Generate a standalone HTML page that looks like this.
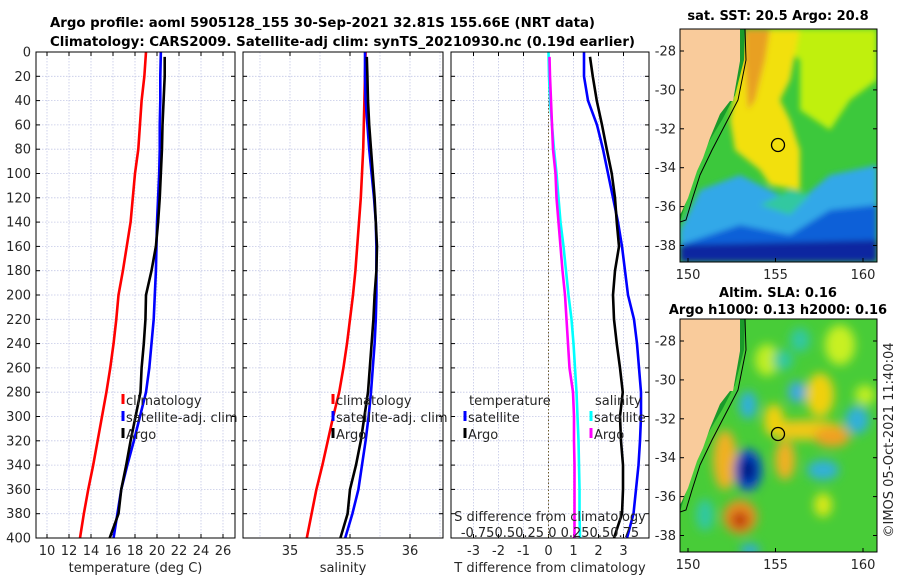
<!DOCTYPE html>
<html><head><meta charset="utf-8"><style>
html,body{margin:0;padding:0;background:#fff;}
svg{display:block;font-family:"DejaVu Sans","Liberation Sans",sans-serif;}
.tk{font-size:13px;fill:#262626;}
.ttl{font-size:13px;font-weight:bold;fill:#000;}
</style></head><body>
<svg id="fig" width="900" height="580" viewBox="0 0 900 580">
<defs>
<filter id="blur1" x="-50%" y="-50%" width="200%" height="200%"><feGaussianBlur stdDeviation="3"/></filter>
<filter id="blur2" x="-50%" y="-50%" width="200%" height="200%"><feGaussianBlur stdDeviation="5"/></filter>
<clipPath id="c1"><rect x="680" y="29" width="197" height="233"/></clipPath>
<clipPath id="c2"><rect x="680" y="319" width="197" height="233"/></clipPath>
</defs>
<text class="ttl" x="50" y="27" textLength="545" lengthAdjust="spacingAndGlyphs">Argo profile: aoml 5905128_155 30-Sep-2021 32.81S 155.66E (NRT data)</text>
<text class="ttl" x="50" y="46" textLength="585" lengthAdjust="spacingAndGlyphs">Climatology: CARS2009. Satellite-adj clim: synTS_20210930.nc (0.19d earlier)</text>
<g id="panels"></g>
<g id="maps">
<text class="ttl" x="778" y="20" text-anchor="middle">sat. SST: 20.5 Argo: 20.8</text>
<g clip-path="url(#c1)">
<rect x="680" y="29" width="197" height="233" fill="#3cc83c"/>
<g filter="url(#blur1)">
<polygon points="760,29 877,29 877,80 850,100 830,130 800,110 800,60" fill="#c0f010"/>
<polygon points="745,29 800,29 790,80 780,100 790,120 800,150 800,190 770,185 760,170 735,150 730,120" fill="#f2e010"/>
<polygon points="745,29 770,29 765,60 755,100 748,110 745,60" fill="#e8a020"/>
<polygon points="700,190 740,175 780,195 800,200 830,175 877,165 877,262 680,262 680,230" fill="#30a8e8"/>
<polygon points="740,225 790,235 830,210 877,205 877,262 680,262 680,245" fill="#1060d8"/>
<polygon points="680,245 877,240 877,262 680,262" fill="#0828a0"/>
<polygon points="760,205 790,215 810,195 790,190" fill="#30c8a0"/>
</g>
<polygon points="737,29 745,29 744,60 735,95 722,120 710,140 700,160 690,190 682,215 680,222 680,200 688,180 705,135 730,100 740,60" fill="#1a9a2a"/>
<polygon points="737,29 740,29 740,61 733,101 730,101 720,114 710,138 703,158 697,171 688,198 682,211 680,215 680,29" fill="#f9cb9b"/>
<polyline points="745,29 746,60 738,100 725,125 712,150 700,175 692,200 686,220 680,222" fill="none" stroke="#000" stroke-width="1"/>
<circle cx="778" cy="145" r="6.5" fill="none" stroke="#000" stroke-width="1.3"/>
</g>
<rect x="680" y="29" width="197" height="233" fill="none" stroke="#000" stroke-width="1"/>
<text class="ttl" x="778" y="297" text-anchor="middle">Altim. SLA: 0.16</text>
<text class="ttl" x="778" y="314" text-anchor="middle">Argo h1000: 0.13 h2000: 0.16</text>
<g clip-path="url(#c2)">
<rect x="680" y="319" width="197" height="233" fill="#48cc38"/>
<g filter="url(#blur2)">
<ellipse cx="767" cy="360" rx="12" ry="16" fill="#c0ee20"/>
<ellipse cx="840" cy="345" rx="15" ry="20" fill="#c8f020"/>
<ellipse cx="800" cy="340" rx="10" ry="12" fill="#30c8a0"/>
<ellipse cx="783" cy="360" rx="10" ry="10" fill="#30c8a0"/>
<ellipse cx="820" cy="395" rx="14" ry="22" fill="#f0d010"/>
<ellipse cx="805" cy="430" rx="40" ry="10" fill="#f0c818"/>
<ellipse cx="832" cy="437" rx="18" ry="10" fill="#f0a020"/>
<ellipse cx="774" cy="420" rx="10" ry="16" fill="#f0d010"/>
<ellipse cx="785" cy="460" rx="10" ry="20" fill="#f0b020"/>
<ellipse cx="797" cy="392" rx="9" ry="11" fill="#40a8e0"/>
<ellipse cx="748" cy="405" rx="9" ry="14" fill="#30b0d8"/>
<ellipse cx="725" cy="460" rx="12" ry="30" fill="#f0b020"/>
<ellipse cx="748" cy="470" rx="14" ry="21" fill="#1050d0"/>
<ellipse cx="748" cy="470" rx="8" ry="13" fill="#001880"/>
<ellipse cx="740" cy="517" rx="17" ry="17" fill="#e89020"/>
<ellipse cx="740" cy="520" rx="9" ry="9" fill="#c04010"/>
<ellipse cx="823" cy="470" rx="16" ry="10" fill="#30b0d8"/>
<ellipse cx="857" cy="420" rx="12" ry="14" fill="#30b0d8"/>
<ellipse cx="865" cy="395" rx="10" ry="10" fill="#c0ee20"/>
<ellipse cx="823" cy="505" rx="9" ry="12" fill="#d8e818"/>
<ellipse cx="705" cy="515" rx="9" ry="16" fill="#30c8a0"/>
<ellipse cx="750" cy="550" rx="10" ry="6" fill="#30a8e0"/>
</g>
<polygon points="737,319 745,319 744,350 735,385 722,410 710,430 700,450 690,480 682,505 680,512 680,490 688,470 705,425 730,390 740,350" fill="#1a9a2a"/>
<polygon points="737,319 740,319 740,351 733,391 730,391 720,404 710,428 703,448 697,461 688,488 682,501 680,505 680,319" fill="#f9cb9b"/>
<polyline points="745,319 746,350 738,390 725,415 712,440 700,465 692,490 686,510 680,512" fill="none" stroke="#000" stroke-width="1"/>
<circle cx="778" cy="434" r="6.5" fill="none" stroke="#000" stroke-width="1.3"/>
</g>
<rect x="680" y="319" width="197" height="233" fill="none" stroke="#000" stroke-width="1"/>
<g id="maplabels"></g>
<text class="tk" transform="translate(893,440) rotate(-90)" text-anchor="middle">©IMOS 05-Oct-2021 11:40:04</text>
</g>
</svg>
<script>
const depths = [0,20,40,60,80,100,120,140,160,180,200,220,240,260,280,300,320,340,360,380,400];
const tempClim = [19.0,18.85,18.6,18.45,18.3,18.0,17.8,17.6,17.25,16.9,16.5,16.3,16.05,15.75,15.4,15.0,14.6,14.2,13.75,13.35,13.0];
const tempSat = [20.35,20.3,20.3,20.25,20.25,20.2,20.1,20.0,19.95,19.9,19.8,19.7,19.5,19.3,19.0,18.45,17.9,17.3,16.75,16.4,16.05];
const tempArgo = [20.7,20.7,20.6,20.5,20.45,20.35,20.25,20.1,19.9,19.5,19.0,18.95,18.8,18.6,18.5,18.05,17.6,17.2,16.75,16.5,15.7];
const salClim = [35.63,35.625,35.62,35.615,35.61,35.6,35.59,35.575,35.56,35.545,35.525,35.5,35.475,35.445,35.41,35.36,35.315,35.27,35.22,35.18,35.14];
const salSat = [35.625,35.625,35.63,35.645,35.66,35.68,35.7,35.715,35.72,35.72,35.72,35.715,35.705,35.69,35.675,35.655,35.63,35.6,35.57,35.52,35.46];
const salArgo = [35.64,35.645,35.65,35.66,35.675,35.69,35.705,35.715,35.725,35.72,35.705,35.695,35.68,35.665,35.65,35.62,35.59,35.55,35.5,35.48,35.42];
const dTSat = [1.42,1.42,1.58,1.94,2.18,2.38,2.58,2.78,2.94,3.06,3.18,3.42,3.54,3.62,3.7,3.7,3.66,3.6,3.5,3.4,3.14];
const dTArgo = [1.66,1.77,1.93,2.14,2.33,2.53,2.66,2.73,2.82,2.66,2.58,2.62,2.73,2.86,2.97,2.86,2.9,2.98,2.98,2.94,2.62];
const dSSat = [0,0.005,0.015,0.035,0.055,0.08,0.1,0.12,0.15,0.175,0.2,0.23,0.25,0.265,0.28,0.29,0.3,0.305,0.31,0.31,0.315];
const dSArgo = [0.01,0.015,0.025,0.035,0.045,0.07,0.08,0.1,0.12,0.14,0.165,0.18,0.195,0.21,0.245,0.255,0.255,0.26,0.26,0.26,0.26];
const depthTicks = [0,20,40,60,80,100,120,140,160,180,200,220,240,260,280,300,320,340,360,380,400];
const tempTicks = [10,12,14,16,18,20,22,24,26];
const salTicks = [35,35.5,36];
const salGrid = [34.75,35,35.25,35.5,35.75,36,36.25];
const dTTicks = [-3,-2,-1,0,1,2,3];
const dTGrid = [-3,-2,-1,0,1,2,3];
const lonTicks = [150,155,160];
const latTicks = [-28,-30,-32,-34,-36,-38];

const NS = 'http://www.w3.org/2000/svg';
const TOP = 52, BOT = 538;
const yD = d => TOP + (d/400)*(BOT-TOP);
const xT = t => 47 + (t-10)*11;
const xS = s => 350 + (s-35.5)*120;
const xDT = v => 548.5 + v*25;
const xDS = v => 548.5 + v*100;
const root = document.getElementById('panels');
function mk(tag, attrs, parent){const e=document.createElementNS(NS,tag);for(const k in attrs)e.setAttribute(k,attrs[k]);(parent||root).appendChild(e);return e;}

function panel(x0,x1,name,xfun,gridVals,tickVals,tickLabels,xlabel,showY){
  const g = mk('g',{});
  
  
  depthTicks.forEach(d=>{ mk('line',{x1:x0,x2:x1,y1:yD(d),y2:yD(d),stroke:'#c4c8e6','stroke-width':0.8,'stroke-dasharray':'1.5,1.5'},g); });
  gridVals.forEach(v=>{ const x=xfun(v); mk('line',{x1:x,x2:x,y1:TOP,y2:BOT,stroke:'#c4c8e6','stroke-width':0.8,'stroke-dasharray':'1.5,1.5'},g); });
  depthTicks.forEach(d=>{ mk('line',{x1:x0,x2:x0+4,y1:yD(d),y2:yD(d),stroke:'#000'},g); mk('line',{x1:x1-4,x2:x1,y1:yD(d),y2:yD(d),stroke:'#000'},g);
    if(showY){ const t=mk('text',{x:x0-5,y:yD(d)+4.5,'text-anchor':'end',class:'tk'},g); t.textContent=d;
      
       } });
  tickVals.forEach((v,i)=>{ const x=xfun(v); mk('line',{x1:x,x2:x,y1:BOT,y2:BOT-4,stroke:'#000'},g); mk('line',{x1:x,x2:x,y1:TOP,y2:TOP+4,stroke:'#000'},g);
    const t=mk('text',{x:x,y:BOT+17,'text-anchor':'middle',class:'tk'},g); t.textContent=tickLabels[i];
    
     });
  const xl=mk('text',{x:(x0+x1)/2,y:BOT+34,'text-anchor':'middle',class:'tk'},g); xl.textContent=xlabel;
  
  
  return g;
}
function line(g,vals,xfun,color,name,skipFirst){
  const pts = vals.map((v,i)=>[xfun(v), i===0&&skipFirst? yD(4): yD(depths[i])]);
  const p = mk('polyline',{points:pts.map(p=>p.join(',')).join(' '),fill:'none',stroke:color,'stroke-width':2.6,'stroke-linejoin':'round'},g);
  
  
}
function box(g,x0,x1){ mk('rect',{x:x0,y:TOP,width:x1-x0,height:BOT-TOP,fill:'none',stroke:'#000','stroke-width':1},g); }
function legend(g,x,y,color,label){
  const m=mk('line',{x1:x,x2:x,y1:y-11,y2:y-1,stroke:color,'stroke-width':3},g);
  
  
  const t=mk('text',{x:x+3,y:y,class:'tk'},g); t.textContent=label;
  
  
}

const g1 = panel(36,235,'temperature-panel',xT,tempTicks,tempTicks,tempTicks.map(String),'temperature (deg C)',true);
line(g1,tempClim,xT,'#ff0000','temp-climatology-line',false);
line(g1,tempSat,xT,'#0000ff','temp-satellite-line',false);
line(g1,tempArgo,xT,'#000000','temp-argo-line',true);
box(g1,36,235);
legend(g1,123,405,'#ff0000','climatology');
legend(g1,123,422,'#0000ff','satellite-adj. clim');
legend(g1,123,439,'#000000','Argo');

const g2 = panel(243,443,'salinity-panel',xS,salGrid,salTicks,['35','35.5','36'],'salinity',false);
line(g2,salClim,xS,'#ff0000','sal-climatology-line',false);
line(g2,salSat,xS,'#0000ff','sal-satellite-line',false);
line(g2,salArgo,xS,'#000000','sal-argo-line',true);
box(g2,243,443);
legend(g2,333,405,'#ff0000','climatology');
legend(g2,333,422,'#0000ff','satellite-adj. clim');
legend(g2,333,439,'#000000','Argo');

const g3 = panel(451,649,'difference-panel',xDT,dTGrid,dTTicks,dTTicks.map(String),'T difference from climatology',false);
mk('line',{x1:xDT(0),x2:xDT(0),y1:TOP,y2:BOT,stroke:'#6b5a2a','stroke-width':1,'stroke-dasharray':'1.5,2'},g3);
line(g3,dSSat,xDS,'#00ffff','s-diff-satellite-line',false);
line(g3,dSArgo,xDS,'#ff00ff','s-diff-argo-line',true);
line(g3,dTSat,xDT,'#0000ff','t-diff-satellite-line',false);
line(g3,dTArgo,xDT,'#000000','t-diff-argo-line',true);
box(g3,451,649);
(function(){
  let t=mk('text',{x:469,y:405,class:'tk'},g3); t.textContent='temperature';
  
  
  t=mk('text',{x:595,y:405,class:'tk'},g3); t.textContent='salinity';
  
  
})();
legend(g3,465,422,'#0000ff','satellite');
legend(g3,465,439,'#000000','Argo');
legend(g3,591,422,'#00ffff','satellite');
legend(g3,591,439,'#ff00ff','Argo');
(function(){
  let t=mk('text',{x:550,y:521,'text-anchor':'middle',class:'tk'},g3); t.textContent='S difference from climatology';
  
  
  t=mk('text',{x:550,y:537,'text-anchor':'middle',class:'tk'},g3); t.textContent='-0.750.50.25 0 0.250.50.75';
  
  
})();

const ml = document.getElementById('maplabels');
function mapAxes(top, lat0y){
  const xL = lon => 688 + (lon-150)*17.5;
  const yL = lat => lat0y + (-28-lat)*19.45;
  lonTicks.forEach(l=>{ const x=xL(l); mk('line',{x1:x,x2:x,y1:top+233,y2:top+229,stroke:'#000'},ml);
    const t=mk('text',{x:x,y:top+250,'text-anchor':'middle',class:'tk'},ml); t.textContent=l;
    
     });
  latTicks.forEach(l=>{ const y=yL(l); mk('line',{x1:877,x2:873,y1:y,y2:y,stroke:'#000'},ml); mk('line',{x1:680,x2:684,y1:y,y2:y,stroke:'#000'},ml);
    const t=mk('text',{x:676,y:y+4.5,'text-anchor':'end',class:'tk'},ml); t.textContent=l;
    
     });
}
mapAxes(29,51);
mapAxes(319,341);
</script>
</body></html>
